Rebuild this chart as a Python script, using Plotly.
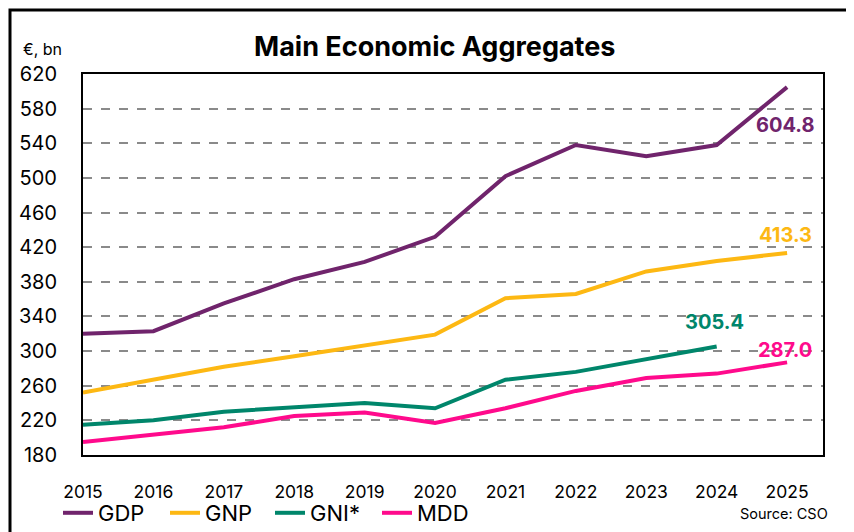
import plotly.graph_objects as go

years = [2015, 2016, 2017, 2018, 2019, 2020, 2021, 2022, 2023, 2024, 2025]
gdp = [320, 323, 355, 383, 403, 432, 502, 538, 525, 538, 604.8]
gnp = [252, 267, 282, 294, 307, 319, 361, 366, 392, 404, 413.3]
gni_star = [215, 220, 230, 235, 240, 234, 267, 276, 291, 305.4]
mdd = [195, 204, 212, 225, 229, 217, 234, 254, 269, 274, 287.0]

series = [
    ("GDP", years, gdp, "#70246C"),
    ("GNP", years, gnp, "#FDB813"),
    ("GNI*", years[:len(gni_star)], gni_star, "#00866B"),
    ("MDD", years, mdd, "#FF0A8C"),
]

# end labels: (text, x, y, color, yshift)
end_labels = [
    ("604.8", 2025, gdp[-1], "#70246C", -38),
    ("413.3", 2025, gnp[-1], "#FDB813", 18),
    ("305.4", 2024, gni_star[-1], "#00866B", 24),
    ("287.0", 2025, mdd[-1], "#FF0A8C", 12),
]

FONT = "Inter, Liberation Sans, Arial, sans-serif"

# page body has an 8px offset; work in screen pixels and compensate
OFF = 8
W, H = 854 - OFF, 532 - OFF
S_L, S_R, S_T, S_B = 83, 823, 74, 455  # plot area in screen pixels
L, R, T, B = S_L - OFF, W - (S_R - OFF), S_T - OFF, H - (S_B - OFF)
pw, ph = W - L - R, H - T - B

def px(x):
    return (x - OFF - L) / pw

def py(y):
    return (H - B - (y - OFF)) / ph

legend_x = [58, 165, 270, 377]  # screen x of each legend entry
legend_ids = ["legend", "legend2", "legend3", "legend4"]

fig = go.Figure()
for (name, xs, ys, col), lid in zip(series, legend_ids):
    fig.add_trace(go.Scatter(x=xs, y=ys, name=name, mode="lines", legend=lid,
                             line=dict(color=col, width=4)))

for txt, x, y, col, ys in end_labels:
    fig.add_annotation(x=x, y=y, text=f"<b>{txt}</b>", showarrow=False,
                       xanchor="center", yanchor="middle", yshift=ys, xshift=-2,
                       font=dict(family=FONT, size=20, color=col))

fig.add_annotation(x=px(434), y=py(47), xref="paper", yref="paper",
                   text="<b>Main Economic Aggregates</b>", showarrow=False,
                   xanchor="center", yanchor="middle",
                   font=dict(family=FONT, size=27, color="black"))
fig.add_annotation(x=px(64), y=py(49), xref="paper", yref="paper",
                   text="€, bn", showarrow=False, xanchor="right", yanchor="middle",
                   font=dict(family=FONT, size=16, color="black"))
fig.add_annotation(x=px(830), y=py(513), xref="paper", yref="paper",
                   text="Source: CSO", showarrow=False, xanchor="right", yanchor="middle",
                   font=dict(family=FONT, size=14.5, color="black"))

# outer frame (left and top edges visible)
fig.add_shape(type="rect", xref="paper", yref="paper",
              x0=px(10), y0=py(700), x1=px(1000), y1=py(10),
              line=dict(color="black", width=3), layer="below")

legend_common = dict(orientation="h", xanchor="left", yanchor="middle",
                     font=dict(family=FONT, size=22, color="black"),
                     bgcolor="rgba(0,0,0,0)")
layout_legends = {lid: dict(x=px(lx), y=py(513), **legend_common)
                  for lid, lx in zip(legend_ids, legend_x)}

fig.update_layout(
    width=W, height=H,
    margin=dict(l=L, r=R, t=T, b=B, autoexpand=False),
    paper_bgcolor="white", plot_bgcolor="white",
    font=dict(family=FONT, size=16, color="black"),
    showlegend=True,
    **layout_legends,
)
fig.update_xaxes(range=[2015, 2025.51], tickvals=years, ticktext=[str(y) for y in years],
                 showgrid=False, showline=True, linecolor="black", linewidth=2, mirror=True,
                 ticks="", ticklabelstandoff=20, zeroline=False, automargin=False,
                 tickfont=dict(family=FONT, size=17.5))
fig.update_yaxes(range=[180, 620], tickvals=list(range(180, 621, 40)),
                 showgrid=True, gridcolor="#8a8a8a", griddash="dash", gridwidth=1.5,
                 showline=True, linecolor="black", linewidth=2, mirror=True,
                 ticks="", ticklabelstandoff=20, zeroline=False, automargin=False,
                 tickfont=dict(family=FONT, size=20))

fig.write_html("out.html")
